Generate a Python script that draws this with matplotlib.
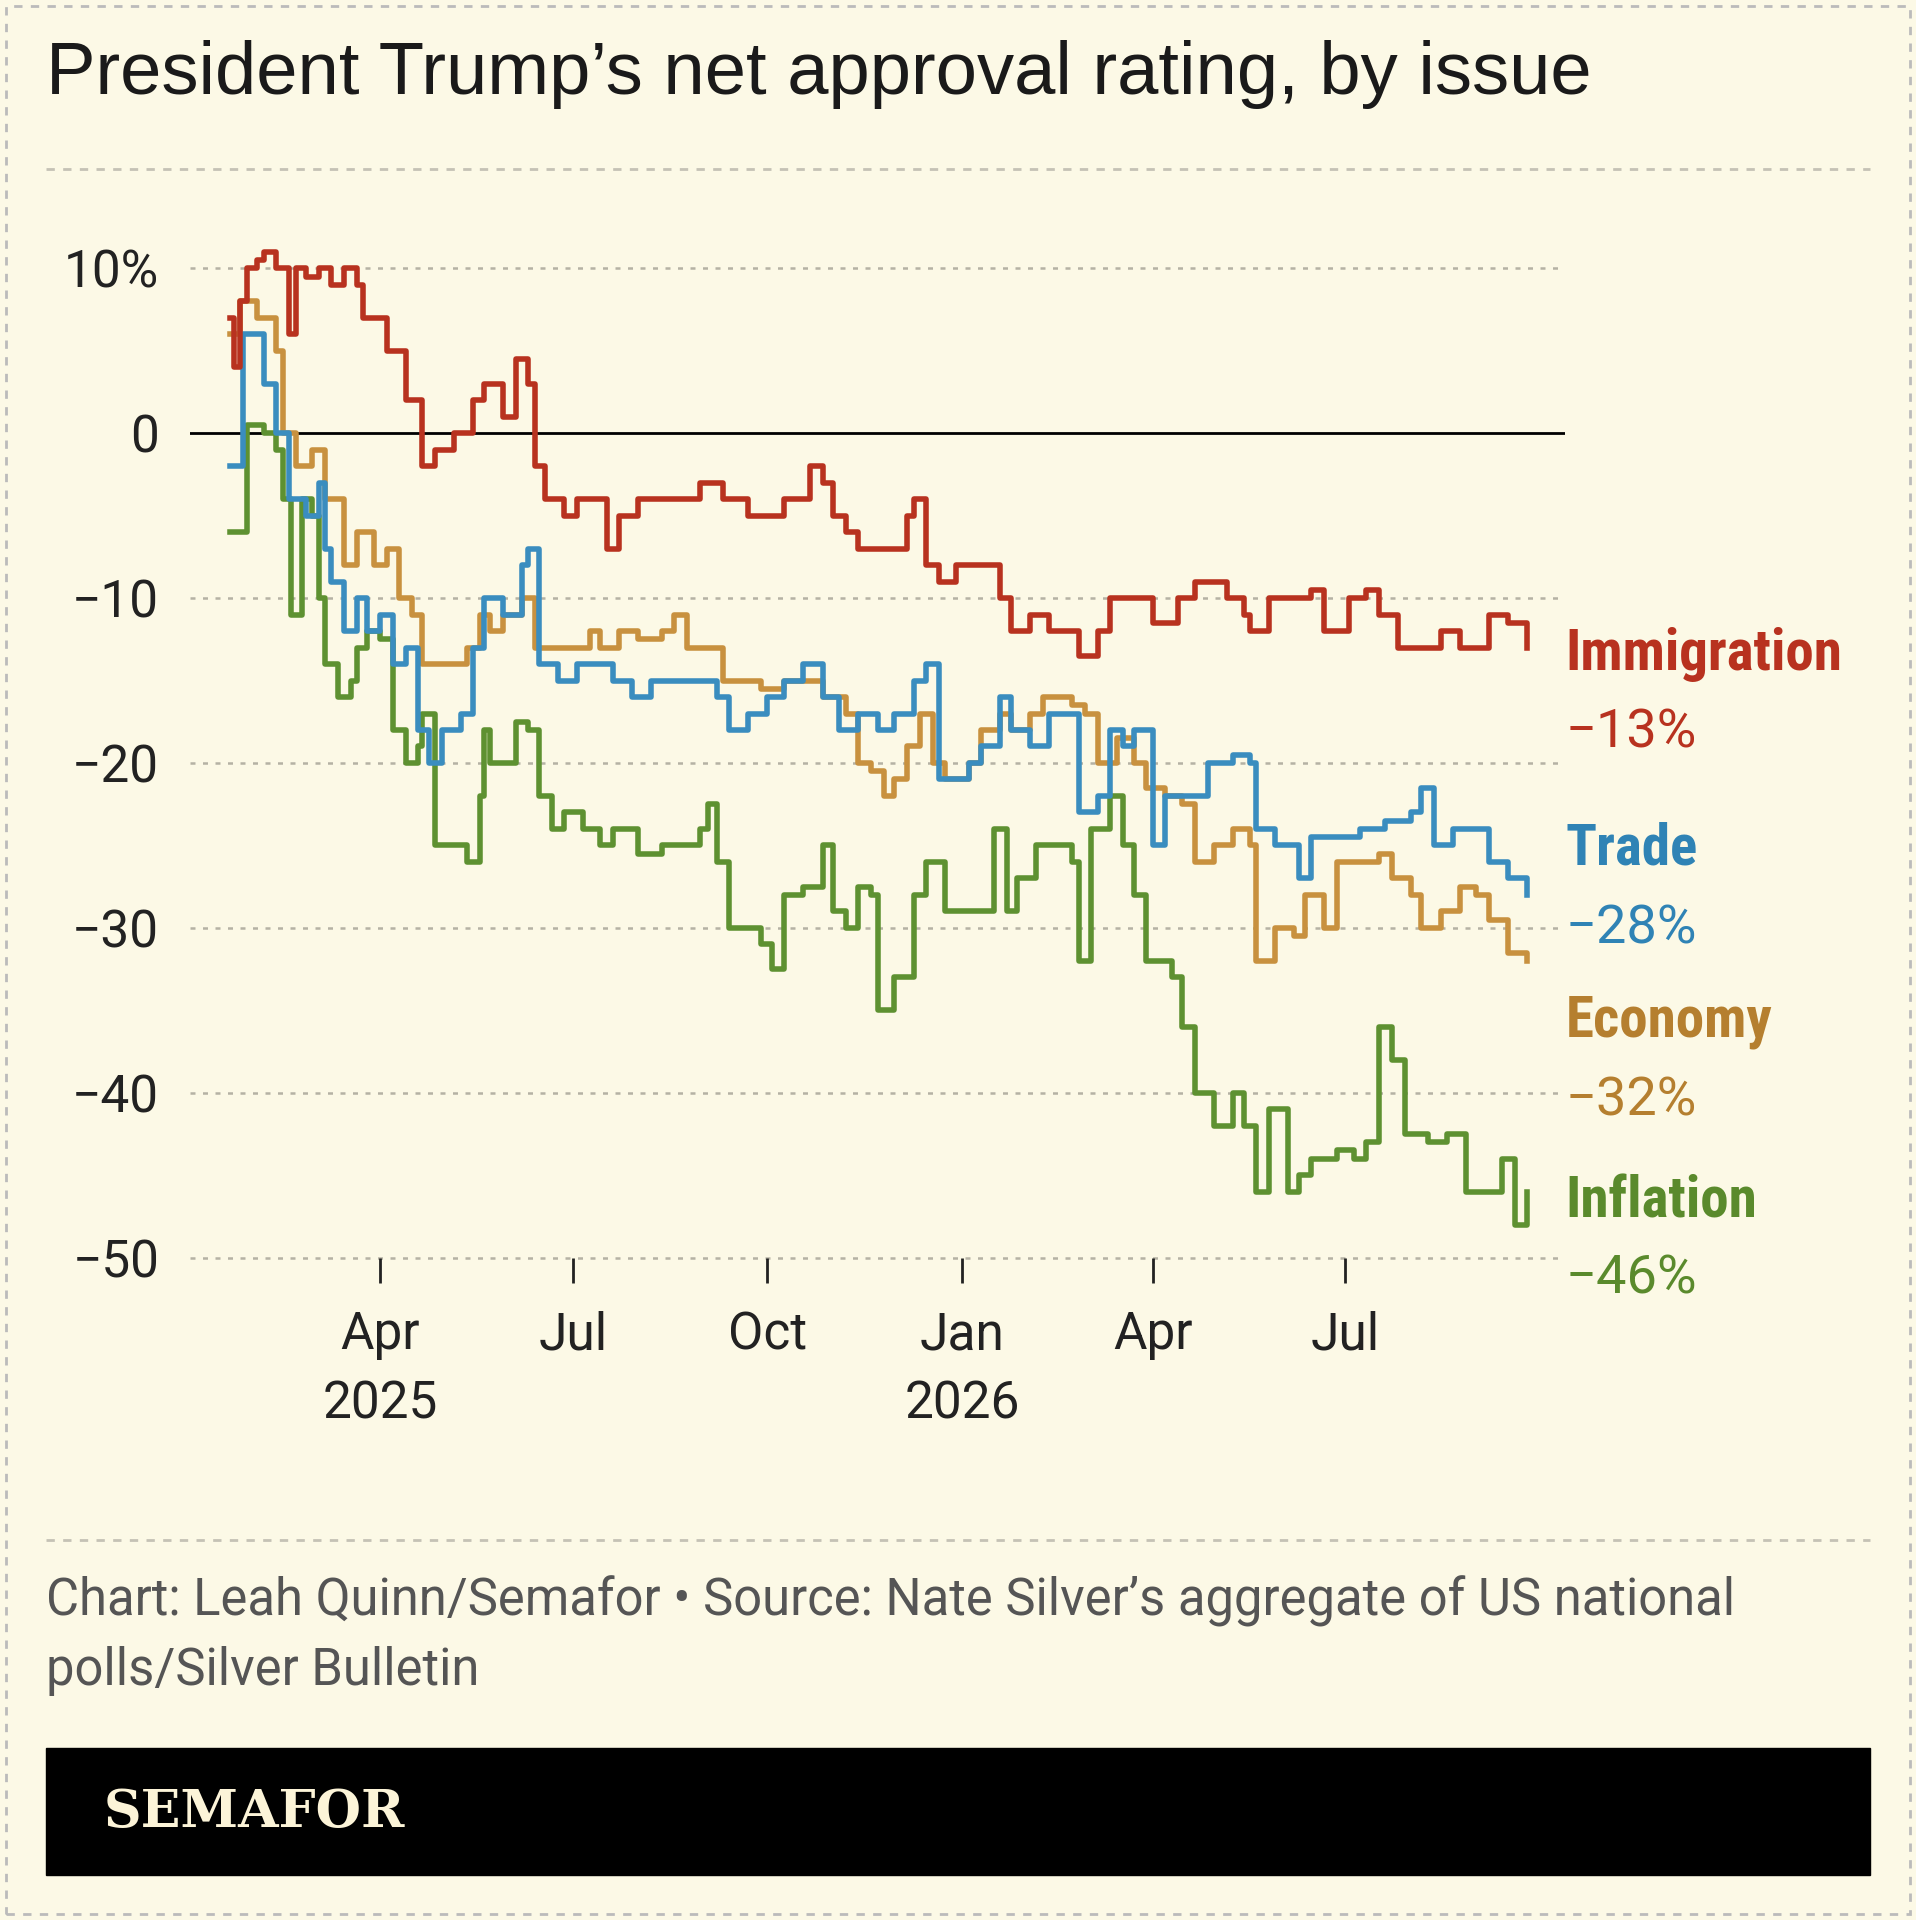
import numpy as np
import pandas as pd
import matplotlib.pyplot as plt
import matplotlib.dates as mdates
from matplotlib.lines import Line2D
from matplotlib.patches import Rectangle

START = pd.Timestamp("2025-01-20")

# days since START, net approval (%)
imm_days = [0, 2, 5, 8, 13, 16, 22, 28, 31, 36, 42, 48, 54, 60, 63, 74, 83, 91, 97, 106, 115, 120, 129, 135, 141, 144, 149,
            158, 164, 175, 178, 184, 193, 204, 216, 222, 233, 245, 254, 262, 274, 280, 285, 291, 297, 309, 320, 323,
            329, 335, 343, 355, 364, 369, 378, 387, 395, 401, 410, 416, 430, 436, 448, 456, 462, 471, 479, 482, 491,
            505, 511, 517, 529, 537, 543, 552, 563, 572, 581, 589, 595, 604, 613]
imm_vals = [7, 4, 8, 10, 10.5, 11, 10, 6, 10, 9.5, 10, 9, 10, 9, 7, 5, 2, -2, -1, 0, 2, 3, 1, 4.5, 3, -2, -4,
            -5, -4, -4, -7, -5, -4, -4, -4, -3, -4, -5, -5, -4, -2, -3, -5, -6, -7, -7, -5, -4,
            -8, -9, -8, -8, -10, -12, -11, -12, -12, -13.5, -12, -10, -10, -11.5, -10, -9, -9, -10, -11, -12, -10,
            -10, -9.5, -12, -10, -9.5, -11, -13, -13, -12, -13, -13, -11, -11.5, -13]

trade_days = [0, 6, 13, 16, 22, 28, 36, 42, 45, 48, 54, 60, 65, 71, 77, 83, 89, 94, 100, 109, 115, 120, 129, 138, 141,
              146, 155, 164, 175, 181, 190, 199, 210, 222, 230, 236, 245, 254, 262, 271, 280, 288, 297, 306, 314, 323,
              329, 335, 349, 355, 364, 369, 378, 387, 395, 401, 410, 416, 422, 427, 436, 442, 453, 462, 474, 482, 485,
              494, 505, 511, 523, 534, 546, 558, 563, 569, 578, 592, 595, 604, 613]
trade_vals = [-2, 6, 6, 3, 0, -4, -5, -3, -7, -9, -12, -10, -12, -11, -14, -13, -18, -20, -18, -17, -13, -10, -11, -8, -7,
              -14, -15, -14, -14, -15, -16, -15, -15, -15, -16, -18, -17, -16, -15, -14, -16, -18, -17, -18, -17, -15,
              -14, -21, -20, -19, -16, -18, -19, -17, -17, -23, -22, -18, -19, -18, -25, -22, -22, -20, -19.5, -20, -24,
              -25, -27, -24.5, -24.5, -24, -23.5, -23, -21.5, -25, -24, -24, -26, -27, -28]

econ_days = [0, 5, 13, 22, 25, 31, 39, 45, 54, 60, 68, 74, 80, 86, 91, 103, 112, 118, 123, 129, 138, 144, 152, 161, 170,
             175, 184, 193, 204, 210, 216, 225, 233, 242, 251, 262, 271, 280, 291, 297, 303, 309, 314, 320, 326, 332,
             338, 349, 355, 364, 369, 378, 384, 393, 398, 404, 410, 419, 427, 433, 442, 450, 456, 465, 474, 482, 485,
             494, 503, 508, 517, 523, 534, 543, 549, 558, 563, 572, 581, 589, 595, 604, 613]
econ_vals = [6, 8, 7, 5, 0, -2, -1, -4, -8, -6, -8, -7, -10, -11, -14, -14, -13, -11, -12, -11, -10, -13, -13, -13, -12,
             -13, -12, -12.5, -12, -11, -13, -13, -15, -15, -15.5, -15, -15, -16, -17, -20, -20.5, -22, -21, -19, -17, -20,
             -21, -20, -18, -17, -18, -17, -16, -16, -16.5, -17, -20, -18.5, -20, -21.5, -22, -22.5, -26, -25, -24, -25, -32,
             -30, -30.5, -28, -30, -26, -26, -25.5, -27, -28, -30, -29, -27.5, -28, -29.5, -31.5, -32]

infl_days = [0, 8, 16, 22, 25, 29, 34, 39, 42, 45, 51, 57, 60, 65, 71, 77, 83, 89, 91, 97, 106, 112, 118, 120, 123, 132,
             135, 141, 146, 152, 158, 167, 175, 181, 193, 204, 216, 222, 226, 230, 236, 245, 251, 256, 262, 271, 280,
             285, 291, 297, 303, 306, 314, 323, 329, 338, 349, 361, 367, 372, 381, 390, 398, 401, 407, 416, 422, 427,
             433, 439, 445, 450, 456, 465, 474, 479, 485, 491, 497, 500, 505, 511, 523, 531, 537, 543, 549, 555, 566,
             575, 584, 595, 601, 607, 613]
infl_vals = [-6, 0.5, 0, -1, -4, -11, -4, -5, -10, -14, -16, -15, -13, -12, -12.5, -18, -20, -19, -17, -25, -25, -26, -22,
             -18, -20, -20, -17.5, -18, -22, -24, -23, -24, -25, -24, -25.5, -25, -25, -24, -22.5, -26, -30, -30, -31,
             -32.5, -28, -27.5, -25, -29, -30, -27.5, -28, -35, -33, -28, -26, -29, -29, -24, -29, -27, -25, -25, -26,
             -32, -24, -22, -25, -28, -32, -32, -33, -36, -40, -42, -40, -42, -46, -41, -41, -46, -45, -44, -43.5, -44,
             -43, -36, -38, -42.5, -43, -42.5, -46, -46, -44, -48, -46]

names = ["Immigration", "Trade", "Economy", "Inflation"]
last_vals = ["\u221213%", "\u221228%", "\u221232%", "\u221246%"]
colors = ["#b8321f", "#3a8dbf", "#c8913f", "#5e9131"]
label_colors = ["#b8321f", "#2f83b5", "#b57f2f", "#5a8a2c"]
series = [(imm_days, imm_vals), (trade_days, trade_vals), (econ_days, econ_vals), (infl_days, infl_vals)]

BG = "#fcf9e6"
plt.rcParams['font.family'] = ['Roboto', 'DejaVu Sans']

fig = plt.figure(figsize=(19.16, 19.2), dpi=100, facecolor=BG)
ax = fig.add_axes([0.099, 0.345, 0.718, 0.541])
ax.set_facecolor(BG)

for (d, v), c in zip(series[::-1], colors[::-1]):
    dates = START + pd.to_timedelta(d, unit="D")
    ax.plot(dates, v, color=c, lw=4, drawstyle="steps-post", zorder=3)

ax.set_xlim(pd.Timestamp("2025-01-01"), pd.Timestamp("2026-10-13"))
ax.set_ylim(-50, 13)
for y in [10, -10, -20, -30, -40, -50]:
    ax.axhline(y, color="#b5b2a4", lw=1.8, ls=(0, (2, 3)), zorder=1, clip_on=False)
ax.axhline(0, color="black", lw=2, zorder=2)

ax.set_yticks([10, 0, -10, -20, -30, -40, -50])
ax.set_yticklabels(["10%", "0", "\u221210", "\u221220", "\u221230", "\u221240", "\u221250"])
xt = pd.to_datetime(["2025-04-01", "2025-07-01", "2025-10-01", "2026-01-01", "2026-04-01", "2026-07-01"])
ax.set_xticks(xt)
ax.set_xticklabels(["Apr\n2025", "Jul", "Oct", "Jan\n2026", "Apr", "Jul"], linespacing=1.5)
ax.tick_params(axis="y", length=0, labelsize=37, pad=22, colors="#222222")
ax.tick_params(axis="x", length=18, width=2, labelsize=37, pad=20, colors="#222222", direction="out")
for s in ax.spines.values():
    s.set_visible(False)

# end labels
name_y = [-13.4, -25.2, -35.7, -46.6]
val_y = [-18.2, -30.1, -40.5, -51.3]
for n, lv, c, y1, y2 in zip(names, last_vals, label_colors, name_y, val_y):
    ax.text(1.0, y1, n, transform=ax.get_yaxis_transform(), color=c, fontsize=41, fontweight="bold",
            va="center", ha="left", family=["Roboto Condensed", "Liberation Sans Narrow", "Roboto", "DejaVu Sans"],
            clip_on=False)
    ax.text(1.0, y2, lv, transform=ax.get_yaxis_transform(), color=c, fontsize=39,
            va="center", ha="left", clip_on=False)

# title, separators, footer
fig.text(0.024, 0.961, "President Trump\u2019s net approval rating, by issue", fontsize=53.5, color="#1a1a1a",
         va="center", family=["Liberation Sans", "DejaVu Sans"])
for yy in [1 - 138 / 1565, 1 - 1255 / 1565]:
    fig.add_artist(Line2D([0.024, 0.976], [yy, yy], color="#c5c2b5", lw=2, ls=(0, (3, 3))))
fig.text(0.024, 1 - 1305 / 1565, "Chart: Leah Quinn/Semafor \u2022 Source: Nate Silver\u2019s aggregate of US national",
         fontsize=36.5, color="#555555", va="center")
fig.text(0.024, 1 - 1362 / 1565, "polls/Silver Bulletin", fontsize=36.5, color="#555555", va="center")
fig.add_artist(Rectangle((0.024, 1 - 1528 / 1565), 0.952, 103 / 1565, color="black"))
fig.text(0.054, 1 - 1477 / 1565, "SEMAFOR", fontsize=37.5, color="#fcf4d8", fontweight="bold", va="center",
         family=["DejaVu Serif"])
fig.add_artist(Rectangle((0.003, 0.003), 0.994, 0.994, fill=False, ec="#bbbbbb", lw=2, ls=(0, (3, 3))))

fig.savefig("out.png", dpi=100, facecolor=BG)
